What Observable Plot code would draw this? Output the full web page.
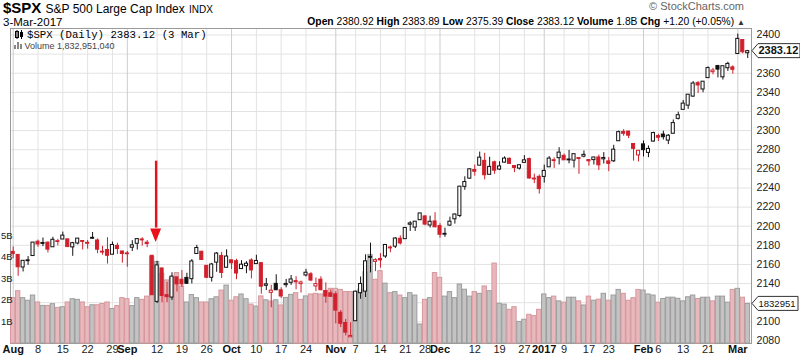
<!DOCTYPE html>
<html><head><meta charset="utf-8">
<script src="https://cdn.jsdelivr.net/npm/d3@7"></script>
<script src="https://cdn.jsdelivr.net/npm/@observablehq/plot@0.6"></script>
<style>
html,body{margin:0;padding:0;background:#fff;}
body{font-family:"Liberation Sans",Arial,sans-serif;color:#000;}
#wrap{position:relative;width:800px;height:358px;overflow:hidden;background:#fff;}
.layer{position:absolute;left:0;top:28px;}
.hd{position:absolute;white-space:nowrap;}
</style></head><body>
<div id="wrap">
  <div class="hd" style="left:3px;top:0px;line-height:15px;font-size:15px;font-weight:bold;">$SPX <span style="font-size:12px;font-weight:normal;">S&amp;P 500 Large Cap Index</span> <span style="font-size:10px;font-weight:normal;">INDX</span></div>
  <div class="hd" style="left:3px;top:16px;line-height:12px;font-size:11.5px;">3-Mar-2017</div>
  <div class="hd" style="right:56px;top:0px;line-height:12px;font-size:11px;color:#666;">© StockCharts.com</div>
  <div class="hd" id="quote" style="right:55px;top:16px;line-height:12px;font-size:10.3px;"></div>
  <div id="l1" class="layer"></div>
  <div id="l2" class="layer"></div>
  <div id="l3" class="layer"></div>
  <div class="hd" style="left:15px;top:29px;font-family:'Liberation Mono',monospace;font-size:10.7px;z-index:5;">
    <svg width="9" height="9" style="vertical-align:-1px;margin-right:3px"><rect x="0.5" y="1.5" width="3" height="6" fill="#fff" stroke="#000"/><line x1="2" y1="0" x2="2" y2="9" stroke="#000"/><rect x="5" y="2" width="3" height="5" fill="#000"/><line x1="6.5" y1="0" x2="6.5" y2="9" stroke="#000"/></svg>$SPX (Daily) 2383.12 (3 Mar)</div>
  <div class="hd" style="left:14px;top:41px;font-size:9px;color:#444;z-index:5;">
    <svg width="8" height="7" style="vertical-align:0px"><rect x="0" y="3" width="2" height="4" fill="#888"/><rect x="3" y="0" width="2" height="7" fill="#888"/><rect x="6" y="2" width="2" height="5" fill="#888"/></svg> Volume 1,832,951,040</div>
</div>
<script>
// ---------------- data ----------------
const prevClose = 2173.60;
const dates = [
"2016-08-01","2016-08-02","2016-08-03","2016-08-04","2016-08-05","2016-08-08","2016-08-09","2016-08-10","2016-08-11","2016-08-12","2016-08-15","2016-08-16","2016-08-17","2016-08-18","2016-08-19","2016-08-22","2016-08-23","2016-08-24","2016-08-25","2016-08-26","2016-08-29","2016-08-30","2016-08-31",
"2016-09-01","2016-09-02","2016-09-06","2016-09-07","2016-09-08","2016-09-09","2016-09-12","2016-09-13","2016-09-14","2016-09-15","2016-09-16","2016-09-19","2016-09-20","2016-09-21","2016-09-22","2016-09-23","2016-09-26","2016-09-27","2016-09-28","2016-09-29","2016-09-30",
"2016-10-03","2016-10-04","2016-10-05","2016-10-06","2016-10-07","2016-10-10","2016-10-11","2016-10-12","2016-10-13","2016-10-14","2016-10-17","2016-10-18","2016-10-19","2016-10-20","2016-10-21","2016-10-24","2016-10-25","2016-10-26","2016-10-27","2016-10-28","2016-10-31",
"2016-11-01","2016-11-02","2016-11-03","2016-11-04","2016-11-07","2016-11-08","2016-11-09","2016-11-10","2016-11-11","2016-11-14","2016-11-15","2016-11-16","2016-11-17","2016-11-18","2016-11-21","2016-11-22","2016-11-23","2016-11-25","2016-11-28","2016-11-29","2016-11-30",
"2016-12-01","2016-12-02","2016-12-05","2016-12-06","2016-12-07","2016-12-08","2016-12-09","2016-12-12","2016-12-13","2016-12-14","2016-12-15","2016-12-16","2016-12-19","2016-12-20","2016-12-21","2016-12-22","2016-12-23","2016-12-27","2016-12-28","2016-12-29","2016-12-30",
"2017-01-03","2017-01-04","2017-01-05","2017-01-06","2017-01-09","2017-01-10","2017-01-11","2017-01-12","2017-01-13","2017-01-17","2017-01-18","2017-01-19","2017-01-20","2017-01-23","2017-01-24","2017-01-25","2017-01-26","2017-01-27","2017-01-30","2017-01-31",
"2017-02-01","2017-02-02","2017-02-03","2017-02-06","2017-02-07","2017-02-08","2017-02-09","2017-02-10","2017-02-13","2017-02-14","2017-02-15","2017-02-16","2017-02-17","2017-02-21","2017-02-22","2017-02-23","2017-02-24","2017-02-27","2017-02-28",
"2017-03-01","2017-03-02","2017-03-03"];
const opens = [
2173.15,2169.94,2156.81,2163.51,2168.79,2183.76,2182.24,2182.81,2177.97,2183.74,2186.08,2186.24,2177.84,2181.90,2184.24,2181.58,2187.81,2185.09,2173.29,2175.10,2170.19,2179.45,2173.56,
2171.33,2177.49,2181.61,2185.17,2182.76,2169.08,2120.86,2155.81,2127.86,2125.36,2146.48,2143.99,2145.94,2144.58,2170.94,2173.29,2158.54,2146.04,2161.85,2168.90,2156.51,
2164.33,2163.37,2155.15,2158.22,2164.19,2160.39,2161.35,2137.67,2130.26,2139.68,2132.95,2138.31,2140.81,2142.51,2139.43,2148.50,2149.72,2136.97,2144.06,2132.23,2129.78,
2128.68,2109.43,2098.80,2083.79,2100.59,2129.92,2131.56,2167.49,2162.71,2165.64,2168.29,2177.53,2178.61,2186.85,2186.43,2201.56,2198.55,2206.27,2210.21,2200.76,2204.97,
2200.17,2191.12,2200.65,2207.26,2210.72,2241.13,2249.73,2258.83,2263.32,2268.35,2253.77,2266.81,2259.24,2266.50,2270.54,2262.93,2260.25,2266.23,2270.23,2249.50,2251.61,
2251.57,2261.60,2268.18,2271.14,2273.59,2269.72,2268.60,2271.14,2272.74,2269.14,2269.14,2271.90,2269.96,2267.78,2267.88,2288.88,2298.63,2299.02,2286.01,2274.02,
2285.59,2276.69,2288.54,2294.28,2295.87,2289.55,2296.70,2312.27,2321.72,2326.12,2335.58,2349.64,2343.01,2354.91,2361.11,2367.50,2355.73,2365.23,2366.08,
2380.13,2394.75,2380.92];
const highs = [
2178.29,2170.20,2163.79,2168.19,2182.87,2185.44,2187.66,2183.41,2188.45,2186.28,2193.81,2186.24,2183.08,2187.03,2185.00,2185.15,2193.42,2186.66,2179.00,2187.94,2183.48,2182.27,2173.79,
2173.56,2184.87,2186.57,2187.87,2184.94,2169.08,2163.30,2155.81,2141.33,2151.31,2146.48,2153.61,2150.80,2165.11,2179.99,2173.75,2158.54,2161.13,2172.40,2172.67,2175.30,
2164.41,2165.46,2163.95,2162.93,2165.86,2169.60,2161.56,2145.36,2138.19,2149.19,2135.61,2144.38,2148.44,2147.18,2142.63,2154.79,2151.44,2145.73,2147.13,2140.72,2133.25,
2131.45,2111.76,2102.56,2099.07,2132.00,2146.87,2170.10,2182.30,2165.92,2171.36,2180.84,2179.22,2188.06,2189.89,2198.70,2204.80,2204.72,2213.35,2211.14,2210.46,2214.10,
2202.60,2197.95,2209.42,2212.78,2241.63,2251.69,2259.80,2264.03,2277.53,2276.20,2272.12,2268.05,2267.47,2272.56,2271.23,2263.18,2263.79,2273.82,2271.31,2254.51,2253.58,
2263.88,2272.82,2271.50,2282.10,2275.49,2279.27,2275.32,2271.78,2278.68,2269.14,2272.08,2274.33,2276.96,2271.78,2284.63,2299.55,2300.99,2299.02,2286.01,2279.09,
2289.14,2283.97,2298.31,2296.18,2299.40,2295.91,2311.08,2319.23,2331.58,2337.58,2351.30,2351.31,2351.16,2366.71,2365.13,2368.26,2367.34,2371.54,2367.79,
2400.98,2394.75,2383.89];
const lows = [
2166.21,2147.58,2152.14,2159.07,2168.79,2177.85,2178.61,2172.00,2177.97,2179.42,2186.08,2178.14,2168.50,2180.46,2175.13,2175.96,2186.80,2171.25,2169.74,2160.39,2170.19,2170.41,2161.35,
2157.09,2173.59,2175.10,2179.07,2177.49,2127.81,2119.12,2119.86,2119.90,2122.36,2131.20,2135.91,2139.17,2139.57,2170.94,2163.97,2145.04,2141.55,2151.79,2145.20,2156.51,
2154.77,2144.01,2155.15,2150.28,2144.85,2160.39,2128.84,2132.77,2114.72,2132.98,2124.43,2135.49,2138.15,2133.44,2130.09,2146.91,2141.93,2131.59,2132.52,2119.36,2125.53,
2097.85,2094.00,2085.23,2083.79,2100.59,2123.56,2125.35,2151.17,2152.49,2156.08,2166.38,2172.20,2176.65,2180.38,2186.43,2194.51,2194.51,2206.27,2200.36,2198.15,2198.81,
2187.44,2188.37,2199.97,2202.21,2208.93,2237.57,2249.23,2252.37,2263.32,2248.44,2253.77,2254.24,2258.21,2266.14,2265.15,2256.08,2258.84,2266.15,2249.11,2244.56,2233.62,
2245.13,2261.60,2260.45,2264.06,2268.90,2265.27,2260.83,2254.25,2271.51,2262.81,2264.06,2258.41,2265.01,2257.02,2266.68,2288.88,2294.08,2291.62,2268.04,2267.21,
2272.44,2271.65,2287.88,2288.57,2290.16,2285.38,2296.61,2311.10,2321.42,2322.17,2334.81,2338.87,2339.58,2354.91,2358.34,2355.09,2352.87,2361.87,2358.96,
2380.13,2380.17,2375.39];
const closes = [
2170.84,2157.03,2163.79,2164.25,2182.87,2180.89,2181.74,2175.49,2185.79,2184.05,2190.15,2178.15,2182.22,2187.02,2183.87,2182.64,2186.90,2175.44,2172.47,2169.04,2180.38,2176.12,2170.95,
2170.86,2179.98,2186.48,2186.16,2181.30,2127.81,2159.04,2127.02,2125.77,2147.26,2139.16,2139.12,2139.76,2163.12,2177.18,2164.69,2146.10,2159.93,2171.37,2151.13,2168.27,
2161.20,2150.49,2159.73,2160.77,2153.74,2163.66,2136.73,2139.18,2132.55,2132.98,2126.50,2139.60,2144.29,2141.34,2141.16,2151.33,2143.16,2139.43,2133.04,2126.41,2126.15,
2111.72,2097.94,2088.66,2085.18,2131.52,2139.56,2163.26,2167.48,2164.45,2164.20,2180.39,2176.94,2187.12,2181.90,2198.18,2202.94,2204.72,2213.35,2201.72,2204.66,2198.81,
2191.08,2191.95,2204.71,2212.23,2241.35,2246.19,2259.53,2256.96,2271.72,2253.28,2262.03,2258.07,2262.53,2270.76,2265.18,2260.96,2263.79,2268.88,2249.92,2249.26,2238.83,
2257.83,2270.75,2269.00,2276.98,2268.90,2268.90,2275.32,2270.44,2274.64,2267.89,2271.89,2263.69,2271.31,2265.20,2280.07,2298.37,2296.68,2294.69,2280.90,2278.87,
2279.55,2280.85,2297.42,2292.56,2293.08,2294.67,2307.87,2316.10,2328.25,2337.58,2349.25,2347.22,2351.16,2365.38,2362.82,2363.81,2367.34,2369.75,2363.64,
2395.96,2381.92,2383.12];
// volume in billions
const volumes = [
2.10,2.42,2.10,1.98,2.22,1.90,1.74,1.74,1.82,1.65,1.68,1.90,2.05,2.02,1.90,1.68,1.77,1.77,1.83,1.90,1.60,1.73,2.10,
2.05,1.73,2.10,2.02,2.17,4.00,3.77,3.23,2.92,3.04,3.26,2.64,1.90,2.24,2.10,1.90,1.90,2.05,2.14,2.45,2.68,
1.98,2.14,2.27,2.05,1.80,1.71,2.18,2.00,1.94,2.00,1.76,2.11,2.25,2.33,2.02,2.18,2.27,2.30,2.27,2.42,2.53,
2.53,2.48,2.38,2.38,2.38,2.50,3.30,4.10,2.95,3.35,2.77,2.33,2.38,2.22,2.10,2.33,2.22,0.88,2.02,2.10,3.26,
3.04,2.17,2.38,2.10,2.73,2.49,2.17,2.38,2.30,2.64,2.42,3.70,1.84,1.80,1.56,1.68,1.00,1.10,1.33,1.27,1.56,
2.27,2.10,2.17,1.95,1.89,2.12,2.12,1.95,1.76,2.17,1.98,2.03,2.30,1.98,2.22,2.48,2.30,1.98,2.10,2.48,
2.45,2.27,2.22,1.89,2.06,2.12,2.12,2.07,1.95,2.14,2.22,2.06,2.12,2.12,1.95,2.17,2.17,1.89,2.48,
2.53,2.12,1.83];
const lastVolume = 1832951040;
// x-axis tick labels
const tickDates = ["2016-08-01","2016-08-08","2016-08-15","2016-08-22","2016-08-29","2016-09-01","2016-09-12","2016-09-19","2016-09-26","2016-10-03","2016-10-10","2016-10-17","2016-10-24","2016-11-01","2016-11-07","2016-11-14","2016-11-21","2016-11-28","2016-12-01","2016-12-12","2016-12-19","2016-12-27","2017-01-03","2017-01-09","2017-01-17","2017-01-23","2017-02-01","2017-02-06","2017-02-13","2017-02-21","2017-03-01"];
const tickLabels = ["Aug","8","15","22","29","Sep","12","19","26","Oct","10","17","24","Nov","7","14","21","28","Dec","12","19","27","2017","9","17","23","Feb","6","13","21","Mar"];
const monthLabels = ["Aug","Sep","Oct","Nov","Dec","2017","Feb","Mar"];
const priceTicks = [2080,2100,2120,2140,2160,2180,2200,2220,2240,2260,2280,2300,2320,2340,2360,2380,2400];
const volumeTicks = [1,2,3,4,5];
// annotation arrow (trading-day position, price from, price to)
const arrowDay = 28.8, arrowFrom = 2268, arrowHeadBase = 2197, arrowTip = 2183;

// ---------------- layout ----------------
const W = 800, H = 330, mL = 10, mR = 49, mT = 0, mB = 15;
const xDomain = [-0.54, 148.76];
const priceDomain = [2077.3, 2406.8];
const volDomain = [0, 14.58];
const RED = "#d0202c";

const rows = dates.map((d, i) => {
  const o = opens[i], c = closes[i];
  const prev = i ? closes[i - 1] : prevClose;
  const up = c >= prev;
  const col = up ? "#111" : RED;
  const lo = Math.min(o, c), hi = Math.max(o, c);
  const mid = (lo + hi) / 2, half = Math.max((hi - lo) / 2, 0.45);
  return {date: d, i, o, h: highs[i], l: lows[i], c, v: volumes[i], up, col,
          fill: c < o ? col : "#fff", b1: mid - half, b2: mid + half,
          vfill: up ? "#c3c3c3" : "#e8b8bc", vstroke: up ? "#9d9d9d" : "#d4989e"};
});
const ticks = tickDates.map((d, k) => ({i: dates.indexOf(d), label: tickLabels[k], month: monthLabels.includes(tickLabels[k])}));

const lastClose = closes[closes.length - 1];
const base = {width: W, height: H, marginLeft: mL, marginRight: mR, marginTop: mT, marginBottom: mB,
  x: {domain: xDomain, axis: null}, color: {type: "identity"}};

// pixel helper (uses the plot's own y scale)
function yPix(plot, v) {
  const sc = plot.scale("y");
  return sc.apply ? sc.apply(v) : d3.scaleLinear(sc.domain, sc.range)(v);
}

// layer 2: volume
const p2 = Plot.plot({...base, y: {domain: volDomain, axis: null},
  style: {background: "transparent", fontFamily: "Liberation Sans, Arial, sans-serif"},
  marks: [
    Plot.rect(rows, {x1: d => d.i - 0.44, x2: d => d.i + 0.44, y1: d => 0, y2: "v", fill: "vfill", stroke: "vstroke", strokeWidth: 1}),
    Plot.text(volumeTicks, {x: xDomain[0], y: d => d, text: d => d + "B", dx: -9.6, textAnchor: "start", fontSize: 9.5, fill: "#222"})
  ]});

// layer 1: grid + frame + price axis labels (labels hidden under the value tags are skipped)
const priceOnly = Plot.plot({...base, y: {domain: priceDomain, axis: null}, marks: []});
const volTagY = yPix(p2, lastVolume / 1e9);
const closeTagY = yPix(priceOnly, lastClose);
const visibleTicks = priceTicks.filter(t => {
  const y = yPix(priceOnly, t);
  return Math.abs(y - volTagY) > 9 && Math.abs(y - closeTagY) > 9;
});
const p1 = Plot.plot({...base, y: {domain: priceDomain, axis: null},
  style: {background: "#fff", fontFamily: "Liberation Sans, Arial, sans-serif"},
  marks: [
    Plot.ruleY(priceTicks, {stroke: "#e3e3e3"}),
    Plot.ruleX(ticks.filter(t => !t.month), {x: "i", stroke: "#e3e3e3"}),
    Plot.ruleX(ticks.filter(t => t.month), {x: "i", stroke: "#cdcdcd"}),
    Plot.frame({stroke: "#9a9a9a"}),
    Plot.text(visibleTicks, {x: xDomain[1], y: d => d, text: d => String(d), dx: 5, textAnchor: "start", fontSize: 10.6, fill: "#222"})
  ]});
document.getElementById("l1").append(p1);
document.getElementById("l2").append(p2);

// layer 3: candles, x labels, arrow
const head = [
  {x: arrowDay - 1.1, y1: arrowHeadBase, y2: arrowHeadBase},
  {x: arrowDay, y1: arrowHeadBase, y2: arrowTip},
  {x: arrowDay + 1.1, y1: arrowHeadBase, y2: arrowHeadBase}];
const p3 = Plot.plot({...base, y: {domain: priceDomain, axis: null},
  style: {background: "transparent", fontFamily: "Liberation Sans, Arial, sans-serif"},
  marks: [
    Plot.ruleX(rows, {x: "i", y1: "l", y2: "h", stroke: "col", strokeWidth: 1}),
    Plot.rect(rows, {x1: d => d.i - 0.31, x2: d => d.i + 0.31, y1: "b1", y2: "b2", fill: "fill", stroke: "col", strokeWidth: 1}),
    Plot.ruleX([arrowDay], {x: d => d, y1: arrowFrom, y2: arrowHeadBase + 1, stroke: "#e8101a", strokeWidth: 2.4}),
    Plot.areaY(head, {x: "x", y1: "y1", y2: "y2", fill: "#e8101a"}),
    Plot.text(ticks.filter(t => !t.month), {x: "i", y: priceDomain[0], text: "label", dy: 6, fontSize: 11, fill: "#222"}),
    Plot.text(ticks.filter(t => t.month), {x: "i", y: priceDomain[0], text: "label", dy: 6, fontSize: 11, fontWeight: "bold", fill: "#111"})
  ]});
document.getElementById("l3").append(p3);

// value tags on the right, positioned with the plots' own scales
function tag(plot, value, text, bold, size, w) {
  const y = yPix(plot, value);
  const x0 = W - mR + 1;
  const svg = d3.select(plot);
  const hh = 7;
  svg.append("path")
    .attr("d", `M${x0},${y} L${x0 + 6},${y - hh} L${x0 + w},${y - hh} L${x0 + w},${y + hh} L${x0 + 6},${y + hh} Z`)
    .attr("fill", "#fff").attr("stroke", "#333").attr("stroke-width", 1);
  svg.append("text").attr("x", x0 + 6.5).attr("y", y).attr("dy", "0.35em")
    .attr("text-anchor", "start")
    .attr("font-size", size).attr("font-weight", bold ? "bold" : "normal")
    .attr("font-family", "Liberation Sans, Arial, sans-serif").attr("fill", "#111").text(text);
}
tag(p3, lastClose, lastClose.toFixed(2), true, 11, 48);
tag(p2, lastVolume / 1e9, String(Math.round(lastVolume / 1000)), false, 9.5, 46);

// quote line
const last = rows[rows.length - 1], prevC = closes[closes.length - 2];
const chg = last.c - prevC;
document.getElementById("quote").innerHTML =
  `<b>Open</b> ${last.o.toFixed(2)} <b>High</b> ${last.h.toFixed(2)} <b>Low</b> ${last.l.toFixed(2)} <b>Close</b> ${last.c.toFixed(2)} <b>Volume</b> ${(lastVolume / 1e9).toFixed(1)}B <b>Chg</b> +${chg.toFixed(2)} (+${(chg / prevC * 100).toFixed(2)}%) <span style="font-size:8px;color:#333">▲</span>`;
</script>
</body></html>
